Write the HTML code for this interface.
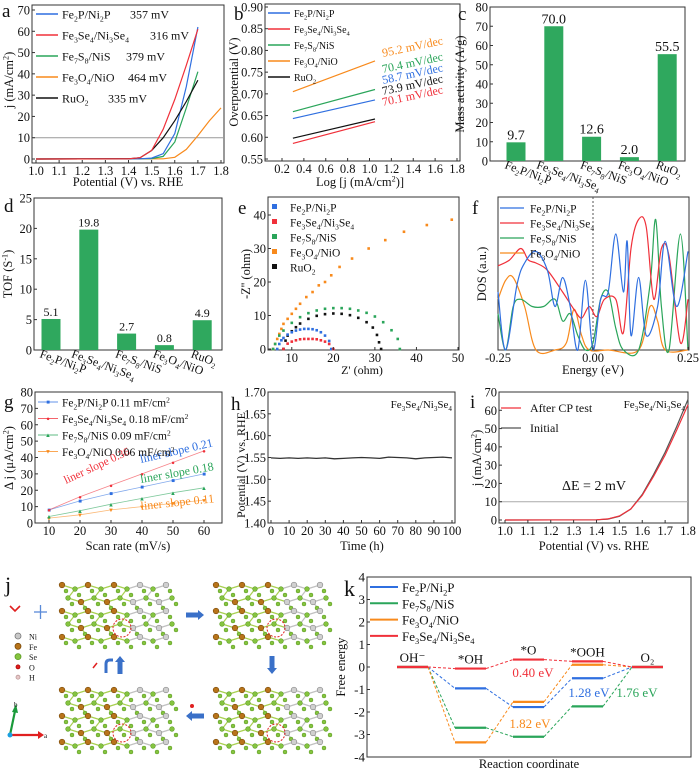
<!DOCTYPE html>
<html><head><meta charset="utf-8"><style>
html,body{margin:0;padding:0;background:#fff;}
svg{display:block;font-family:"Liberation Serif",serif;}
</style></head><body>
<svg id="fig" width="700" height="771" viewBox="0 0 700 771" xmlns="http://www.w3.org/2000/svg"></svg>
<script>
// ===== DATA =====
const aX_fe2p=[1.0,1.45,1.5,1.55,1.6,1.65,1.7];
const aY_fe2p=[0,0.1,0.4,2.5,12,34,62];
const aX_fese=[1.0,1.4,1.45,1.5,1.55,1.6,1.65,1.7];
const aY_fese=[0,0.1,0.6,4,14,28,44,61];
const aX_fes=[1.0,1.5,1.55,1.6,1.65,1.7];
const aY_fes=[0,0.2,1.2,8,24,41];
const aX_feo=[1.0,1.55,1.6,1.65,1.7,1.75,1.8];
const aY_feo=[0,0.1,0.8,4.5,11,18,24];
const aX_ru=[1.0,1.4,1.45,1.5,1.55,1.6,1.65,1.7];
const aY_ru=[0,0.1,0.6,4,10,18,27,37];
const bStart=[0.643,0.586,0.659,0.705,0.598];
const bEnd=[0.686,0.636,0.710,0.776,0.642];
const bSlopes=["58.7","70.1","70.4","95.2","73.9"];
const cVals=[9.7,70.0,12.6,2.0,55.5];
const cLabels=["9.7","70.0","12.6","2.0","55.5"];
const dVals=[5.1,19.8,2.7,0.8,4.9];
const dLabels=["5.1","19.8","2.7","0.8","4.9"];
const eX_fe2p=[6.5,7,7.5,8,9,10,11,12,13,14,15,16,17,18,19,19.5];
const eY_fe2p=[0,1.5,2.6,3.3,4.3,5,5.5,5.8,6,6,5.9,5.6,5,4,2.4,0];
const eX_fese=[8,9,10,11,12,13,14,15,16,17,18,19,20];
const eY_fese=[0,1.6,2.2,2.6,2.9,3,3,3,2.9,2.6,2.2,1.5,0];
const eX_fes=[5.5,6,7,8,10,12,14,16,18,20,22,24,26,28,30,32,34,35.5,36];
const eY_fes=[0,1.5,4,5.5,7.8,9.5,10.7,11.5,12,12.2,12.2,12,11.5,10.8,9.7,8,5.6,3,0];
const eX_feo=[5.5,6,6.5,7,7.5,8,9,10,11,12,13.5,15,16.5,18,19.5,21.5,24.5,28.5,32.5,37,42.5,48.5];
const eY_feo=[0,1.5,3,4.5,6,7.5,9,10.5,12,13.5,15.5,17,19,20,22,24.5,27,30,32.5,35,37,38.6];
const eX_ru=[8,8.5,9,10,11,12,14,16,18,20,22,24,26,28,29.5,30.5,31,31.5];
const eY_ru=[0,2.5,4,5.3,6.5,7.6,9,9.9,10.4,10.6,10.5,10.1,9.3,8,6.4,4.2,2,0];
const fX_fe2p=[-0.25,-0.23,-0.2,-0.18,-0.15,-0.12,-0.1,-0.08,-0.06,-0.04,-0.02,0,0.02,0.04,0.06,0.08,0.09,0.1,0.12,0.14,0.17,0.19,0.22,0.25];
const fY_fe2p=[0.4,0.0,0.45,0.6,0.68,0.55,0.3,0.5,0.3,0.0,0.48,0.0,0.35,0.4,0.8,0.4,0.75,0.1,0.5,0.1,0.3,0.75,0.3,0.68];
const fX_fese=[-0.25,-0.22,-0.19,-0.17,-0.15,-0.12,-0.08,-0.05,-0.03,-0.01,0.01,0.03,0.06,0.08,0.1,0.12,0.14,0.16,0.18,0.2,0.23,0.25];
const fY_fese=[0.58,0.62,0.7,0.62,0.6,0.55,0.4,0.28,0.22,0.3,0.23,0.35,0.35,0.12,0.7,0.9,0.85,0.35,0.7,0.65,0.05,0.35];
const fX_fes=[-0.25,-0.23,-0.21,-0.19,-0.16,-0.13,-0.1,-0.08,-0.06,-0.04,-0.02,0,0.02,0.04,0.06,0.08,0.12,0.15,0.165,0.18,0.2,0.23,0.25];
const fY_fes=[0.25,0.0,0.3,0.35,0.3,0.3,0.35,0.2,0.25,0.1,0.0,0.05,0.35,0.4,0.15,0.0,0.0,0.45,0.9,0.3,0.0,0.8,0.0];
const fX_feo=[-0.25,-0.23,-0.21,-0.18,-0.15,-0.1,-0.07,-0.05,-0.03,-0.01,0.04,0.12,0.15,0.17,0.19,0.25];
const fY_feo=[0.35,0.48,0.5,0.3,0.0,0.0,0.05,0.28,0.1,0.0,0.0,0.0,0.3,0.2,0.0,0.0];
const gRates=[10,20,30,40,50,60];
const gFe2p=[8,13.5,18,22,26,30];
const gFese=[8,16,23,30,37,44];
const gFes=[4,7.5,11.5,15,18.5,21.5];
const gFeo=[3,5,8,10,12,14];
const hT=[0,5,10,15,20,25,30,35,40,45,50,55,60,65,70,75,80,85,90,95,100];
const hV=[1.549,1.548,1.549,1.548,1.549,1.548,1.549,1.547,1.548,1.549,1.550,1.549,1.548,1.551,1.550,1.549,1.547,1.549,1.550,1.551,1.549];
const iX=[1.0,1.4,1.45,1.5,1.55,1.6,1.65,1.7,1.75,1.8];
const iInit=[0,0.1,0.5,2,6,14,25,37,51,66];
const iAfter=[0,0.1,0.6,2.2,6,13.5,24,35.5,49,63];
const kSteps=["OH\u207B","*OH","*O","*OOH","O\u2082"];
const kFe2p=[0,-0.95,-1.78,-0.5,0];
const kFes=[0,-2.7,-3.1,-1.75,0];
const kFeo=[0,-3.35,-1.55,0.1,0];
const kFese=[0,-0.07,0.33,0.25,0];

// ===== HELPERS =====
const NS="http://www.w3.org/2000/svg";
const svg=document.getElementById('fig');
function el(tag,attrs,name,parent){
  const e=document.createElementNS(NS,tag);
  for(const k in attrs)e.setAttribute(k,attrs[k]);
  
  
  (parent||svg).appendChild(e);return e;
}
function txt(x,y,s,size,name,opts){
  opts=opts||{};
  const t=el('text',{x:x,y:y,'font-size':size,fill:opts.fill||'#111','text-anchor':opts.anchor||'start'},name,opts.parent);
  if(opts.rot!==undefined)t.setAttribute('transform','rotate('+opts.rot+' '+x+' '+y+')');
  let i=0,buf='';
  const flush=()=>{if(buf){const sp=document.createElementNS(NS,'tspan');sp.textContent=buf;t.appendChild(sp);buf='';}};
  while(i<s.length){
    const c=s[i];
    if(c==='_'||c==='^'){
      flush();
      let sub;
      if(s[i+1]==='{'){const j=s.indexOf('}',i);sub=s.slice(i+2,j);i=j+1;}else{sub=s[i+1];i+=2;}
      const sp=document.createElementNS(NS,'tspan');
      sp.setAttribute('font-size',size*0.65);
      sp.setAttribute('dy',c==='_'?size*0.25:-size*0.35);
      sp.textContent=sub;t.appendChild(sp);
      const back=document.createElementNS(NS,'tspan');
      back.setAttribute('dy',c==='_'?-size*0.25:size*0.35);
      back.textContent='\u200B';t.appendChild(back);
    }else{buf+=c;i++;}
  }
  flush();return t;
}
function lin(d0,d1,p0,p1){return v=>p0+(v-d0)*(p1-p0)/(d1-d0);}
function box(x0,y0,x1,y1,name){el('rect',{x:x0,y:y0,width:x1-x0,height:y1-y0,fill:'none',stroke:'#333','stroke-width':1},name);}
const TF=12.5;
function xticks(vals,sx,yb,size,name,fmt){
  vals.forEach(v=>{const x=sx(v);
    el('line',{x1:x,y1:yb,x2:x,y2:yb-3,stroke:'#333'},name+'-tick');
    if(fmt)txt(x,yb+12,fmt(v),size,name+'-label',{anchor:'middle'});});
}
function yticks(vals,sy,xl,size,name,fmt){
  vals.forEach(v=>{const y=sy(v);
    el('line',{x1:xl,y1:y,x2:xl+3,y2:y,stroke:'#333'},name+'-tick');
    if(fmt)txt(xl-2,y+4.5,fmt(v),size,name+'-label',{anchor:'end'});});
}
function path(xs,ys,sx,sy,color,name,w,dash){
  let d='';xs.forEach((x,i)=>{d+=(i?'L':'M')+sx(x).toFixed(1)+','+sy(ys[i]).toFixed(1);});
  const p=el('path',{d:d,fill:'none',stroke:color,'stroke-width':w||1.2},name);
  if(dash)p.setAttribute('stroke-dasharray',dash);return p;
}
function smooth(xs,ys,sx,sy,color,name){
  const P=xs.map((x,i)=>[sx(x),sy(ys[i])]);
  let d='M'+P[0][0]+','+P[0][1];
  for(let i=0;i<P.length-1;i++){
    const p0=P[Math.max(0,i-1)],p1=P[i],p2=P[i+1],p3=P[Math.min(P.length-1,i+2)];
    const c1=[p1[0]+(p2[0]-p0[0])/6,p1[1]+(p2[1]-p0[1])/6];
    const c2=[p2[0]-(p3[0]-p1[0])/6,p2[1]-(p3[1]-p1[1])/6];
    d+='C'+c1[0].toFixed(1)+','+c1[1].toFixed(1)+' '+c2[0].toFixed(1)+','+c2[1].toFixed(1)+' '+p2[0].toFixed(1)+','+p2[1].toFixed(1);
  }
  return el('path',{d:d,fill:'none',stroke:color,'stroke-width':1.2},name);
}
const BLUE='#2f6fe0',RED='#f0303a',GREEN='#2aa55a',ORANGE='#f88a1c',BLACK='#111',BAR='#2fa85e';
const range=(a,b,s)=>{const r=[];for(let v=a;v<=b+1e-9;v+=s)r.push(+v.toFixed(4));return r;};

// ===== PANEL a =====
(function(){
  const sx=lin(1.0,1.8,36,221),sy=lin(0,70,159,10);
  box(32,5,224,163,'panel-a-frame');
  el('line',{x1:32,y1:sy(10),x2:224,y2:sy(10),stroke:'#999'},'ref-line-10');
  path(aX_feo,aY_feo,sx,sy,ORANGE,'curve-fe3o4');
  path(aX_fes,aY_fes,sx,sy,GREEN,'curve-fe7s8');
  path(aX_fe2p,aY_fe2p,sx,sy,BLUE,'curve-fe2p');
  path(aX_ru,aY_ru,sx,sy,BLACK,'curve-ruo2');
  path(aX_fese,aY_fese,sx,sy,RED,'curve-fe3se4');
  xticks(range(1.0,1.8,0.1),sx,163,TF,'a-x',v=>v.toFixed(1));
  yticks(range(0,70,10),sy,32,TF,'a-y',v=>String(v));
  txt(128,186,'Potential (V) vs. RHE',12.5,'a-x-title',{anchor:'middle'});
  txt(13,80,'j (mA/cm^2)',12.5,'a-y-title',{anchor:'middle',rot:-90});
  txt(2,17,'a',19,'panel-a-label');
  const L=[['Fe_2P/Ni_2P','357 mV',BLUE,130],['Fe_3Se_4/Ni_3Se_4','316 mV',RED,150],['Fe_7S_8/NiS','379 mV',GREEN,126],['Fe_3O_4/NiO','464 mV',ORANGE,128],['RuO_2','335 mV',BLACK,108]];
  L.forEach((l,i)=>{const y=14+i*21;
    el('line',{x1:36,y1:y,x2:58,y2:y,stroke:l[2],'stroke-width':1.4},'legend-a-swatch');
    txt(62,y+4.5,l[0],12,'legend-a-entry');
    txt(l[3],y+4.5,l[1],12,'legend-a-value');});
})();

// ===== PANEL b =====
(function(){
  const sx=lin(0.2,1.8,282,457),sy=lin(0.55,0.90,159,7);
  box(265,4,460,161,'panel-b-frame');
  const cols=[BLUE,RED,GREEN,ORANGE,BLACK];
  bStart.forEach((v,i)=>{path([0.3,1.05],[v,bEnd[i]],sx,sy,cols[i],'tafel-line',1.2);});
  const labY={3:57,2:73,0:84,4:95,1:106};
  [3,2,0,4,1].forEach(i=>{txt(383,labY[i],bSlopes[i]+' mV/dec',12,'tafel-slope-label',{fill:cols[i],rot:-12});});
  xticks(range(0.2,1.8,0.2),sx,161,TF,'b-x',v=>v.toFixed(1));
  yticks(range(0.55,0.90,0.05),sy,265,TF,'b-y',v=>v.toFixed(2));
  txt(360,186,'Log [j (mA/cm^2)]',12.5,'b-x-title',{anchor:'middle'});
  txt(238,82,'Overpotential (V)',12.5,'b-y-title',{anchor:'middle',rot:-90});
  txt(234,20,'b',19,'panel-b-label');
  const L=[['Fe_2P/Ni_2P',BLUE],['Fe_3Se_4/Ni_3Se_4',RED],['Fe_7S_8/NiS',GREEN],['Fe_3O_4/NiO',ORANGE],['RuO_2',BLACK]];
  L.forEach((l,i)=>{const y=13+i*16;
    el('line',{x1:268,y1:y,x2:290,y2:y,stroke:l[1],'stroke-width':1.4},'legend-b-swatch');
    txt(294,y+4,l[0],10,'legend-b-entry');});
})();

// ===== bar panels =====
function bars(vals,labs,x0,x1,y0,y1,dmax,step,name,cx0,cstep,w,fs){
  const sy=lin(0,dmax,y1,y0);
  box(x0,y0,x1,y1,name+'-frame');
  vals.forEach((v,i)=>{const cx=cx0+i*cstep;
    el('rect',{x:cx-w/2,y:sy(v),width:w,height:y1-sy(v),fill:BAR},name+'-bar');
    txt(cx,sy(v)-3,labs[i],fs,name+'-value-label',{anchor:'middle'});});
  yticks(range(0,dmax,step),sy,x0,TF,name+'-y',v=>String(v));
  const cats=['Fe_2P/Ni_2P','Fe_3Se_4/Ni_3Se_4','Fe_7S_8/NiS','Fe_3O_4/NiO','RuO_2'];
  cats.forEach((c,i)=>{const cx=cx0+i*cstep;
    const tx=cx-12-(i===1?6:0),ty=y1+7;
    txt(tx,ty,c,12,name+'-category-label',{anchor:'start',rot:20});});
}
bars(cVals,cLabels,490,685,7,161,80,10,'mass-activity',516,37.8,19,14);
txt(464,84,'Mass activity (A/g)',12.5,'c-y-title',{anchor:'middle',rot:-90});
txt(458,20,'c',19,'panel-c-label');
bars(dVals,dLabels,34,222,198,350,25,5,'tof',51,37.8,19,12);
txt(12,274,'TOF (S^{-1})',12.5,'d-y-title',{anchor:'middle',rot:-90});
txt(4,212,'d',19,'panel-d-label');

// ===== PANEL e =====
(function(){
  const sx=lin(5,50,271,458),sy=lin(0,40,349,215);
  box(268,197,459,350,'panel-e-frame');
  const S=[[eX_feo,eY_feo,ORANGE,'fe3o4'],[eX_fes,eY_fes,GREEN,'fe7s8'],[eX_ru,eY_ru,BLACK,'ruo2'],[eX_fe2p,eY_fe2p,BLUE,'fe2p'],[eX_fese,eY_fese,RED,'fe3se4']];
  S.forEach(s=>{s[0].forEach((x,i)=>{el('rect',{x:sx(x)-1.3,y:sy(s[1][i])-1.3,width:2.6,height:2.6,fill:s[2]},'nyquist-point-'+s[3]);});});
  xticks(range(10,50,10),sx,350,TF,'e-x',v=>String(v));
  yticks(range(0,40,10),sy,268,TF,'e-y',v=>String(v));
  txt(362,374,"Z' (ohm)",12,'e-x-title',{anchor:'middle'});
  txt(250,274,"-Z'' (ohm)",12.5,'e-y-title',{anchor:'middle',rot:-90});
  txt(238,214,'e',19,'panel-e-label');
  const L=[['Fe_2P/Ni_2P',BLUE],['Fe_3Se_4/Ni_3Se_4',RED],['Fe_7S_8/NiS',GREEN],['Fe_3O_4/NiO',ORANGE],['RuO_2',BLACK]];
  L.forEach((l,i)=>{const y=207+i*15;
    el('rect',{x:272,y:y-3,width:5,height:5,fill:l[1]},'legend-e-swatch');
    txt(290,y+4.5,l[0],11.5,'legend-e-entry');});
})();

// ===== PANEL f =====
(function(){
  const sx=lin(-0.25,0.25,498,688),sy=lin(0,1,350,205);
  box(498,197,689,350,'panel-f-frame');
  el('line',{x1:sx(0),y1:197,x2:sx(0),y2:350,stroke:'#555','stroke-dasharray':'2,2'},'fermi-level-line');
  smooth(fX_feo,fY_feo,sx,sy,ORANGE,'dos-fe3o4');
  smooth(fX_fes,fY_fes,sx,sy,GREEN,'dos-fe7s8');
  smooth(fX_fese,fY_fese,sx,sy,RED,'dos-fe3se4');
  smooth(fX_fe2p,fY_fe2p,sx,sy,BLUE,'dos-fe2p');
  xticks([-0.25,0,0.25],sx,350,TF,'f-x',v=>v.toFixed(2));
  txt(593,374,'Energy (eV)',12.5,'f-x-title',{anchor:'middle'});
  txt(486,274,'DOS (a.u.)',12.5,'f-y-title',{anchor:'middle',rot:-90});
  txt(472,214,'f',19,'panel-f-label');
  const L=[['Fe_2P/Ni_2P',BLUE],['Fe_3Se_4/Ni_3Se_4',RED],['Fe_7S_8/NiS',GREEN],['Fe_3O_4/NiO',ORANGE]];
  L.forEach((l,i)=>{const y=208+i*15;
    el('line',{x1:500,y1:y,x2:524,y2:y,stroke:l[1],'stroke-width':1.3},'legend-f-swatch');
    txt(530,y+4.5,l[0],11.5,'legend-f-entry');});
})();

// ===== PANEL g =====
(function(){
  const sx=lin(10,60,49,204),sy=lin(0,80,523,392);
  box(35,392,222,523,'panel-g-frame');
  const S=[[gFeo,ORANGE,'fe3o4','\u25BC'],[gFes,GREEN,'fe7s8','\u25B2'],[gFe2p,BLUE,'fe2p','\u25A0'],[gFese,RED,'fe3se4','\u25CF']];
  S.forEach(s=>{path(gRates,s[0],sx,sy,s[1],'fit-line-'+s[2],0.8).setAttribute('opacity','0.6');
    gRates.forEach((r,i)=>{txt(sx(r),sy(s[0][i])+2.2,s[3],6,'cdl-point-'+s[2],{anchor:'middle',fill:s[1]});});});
  xticks(range(10,60,10),sx,523,TF,'g-x',v=>String(v));
  yticks(range(0,80,10),sy,35,TF,'g-y',v=>String(v));
  txt(128,550,'Scan rate (mV/s)',12.5,'g-x-title',{anchor:'middle'});
  txt(13,458,'\u0394 j (\u03BCA/cm^2)',12.5,'g-y-title',{anchor:'middle',rot:-90});
  txt(4,408,'g',19,'panel-g-label');
  txt(66,484,'liner slope 0.36',11.5,'slope-label-red',{fill:RED,rot:-25});
  txt(141,463,'liner slope 0.21',12,'slope-label-blue',{fill:BLUE,rot:-13});
  txt(141,483,'liner slope 0.18',12,'slope-label-green',{fill:GREEN,rot:-10});
  txt(141,510,'liner slope 0.11',12,'slope-label-orange',{fill:ORANGE,rot:-6});
  const L=[['Fe_2P/Ni_2P 0.11 mF/cm^2',BLUE,'\u25A0'],['Fe_3Se_4/Ni_3Se_4 0.18 mF/cm^2',RED,'\u25CF'],['Fe_7S_8/NiS 0.09 mF/cm^2',GREEN,'\u25B2'],['Fe_3O_4/NiO 0.06 mF/cm^2',ORANGE,'\u25BC']];
  L.forEach((l,i)=>{const y=402+i*16.5;
    el('line',{x1:38,y1:y,x2:58,y2:y,stroke:l[1],'stroke-width':0.8},'legend-g-swatch');
    txt(48,y+2.2,l[2],6,'legend-g-marker',{anchor:'middle',fill:l[1]});
    txt(62,y+4.5,l[0],11.5,'legend-g-entry');});
})();

// ===== PANEL h =====
(function(){
  const sx=lin(0,100,271,452),sy=lin(1.40,1.70,523,392);
  box(268,392,455,523,'panel-h-frame');
  path(hT,hV,sx,sy,'#333','stability-curve',1.3);
  xticks(range(0,100,10),sx,523,TF,'h-x',v=>String(v));
  yticks(range(1.40,1.70,0.05),sy,268,TF,'h-y',v=>v.toFixed(2));
  txt(362,550,'Time (h)',12.5,'h-x-title',{anchor:'middle'});
  txt(245,465,'Potential (V) vs. RHE',12,'h-y-title',{anchor:'middle',rot:-90});
  txt(231,410,'h',19,'panel-h-label');
  txt(452,408,'Fe_3Se_4/Ni_3Se_4',11,'h-sample-label',{anchor:'end'});
})();

// ===== PANEL i =====
(function(){
  const sx=lin(1.0,1.8,505,688),sy=lin(0,70,520,392);
  box(499,392,688,523,'panel-i-frame');
  el('line',{x1:499,y1:sy(10),x2:688,y2:sy(10),stroke:'#aaa'},'ref-line-10');
  path(iX,iInit,sx,sy,'#555','curve-initial',1.2);
  path(iX,iAfter,sx,sy,RED,'curve-after-cp',1.2);
  xticks(range(1.0,1.8,0.1),sx,523,TF,'i-x',v=>v.toFixed(1));
  yticks(range(0,70,10),sy,499,TF,'i-y',v=>String(v));
  txt(594,550,'Potential (V) vs. RHE',12.5,'i-x-title',{anchor:'middle'});
  txt(481,458,'j (mA/cm^2)',12.5,'i-y-title',{anchor:'middle',rot:-90});
  txt(470,408,'i',19,'panel-i-label');
  txt(685,408,'Fe_3Se_4/Ni_3Se_4',11,'i-sample-label',{anchor:'end'});
  el('line',{x1:501,y1:408,x2:521,y2:408,stroke:RED,'stroke-width':1.3},'legend-i-swatch');
  txt(530,412,'After CP test',12,'legend-i-entry');
  el('line',{x1:501,y1:428,x2:521,y2:428,stroke:'#555','stroke-width':1.3},'legend-i-swatch');
  txt(530,432,'Initial',12,'legend-i-entry');
  txt(562,490,'\u0394E = 2 mV',14,'delta-e-label');
})();

// ===== PANEL j (illustration) =====
(function(){
  txt(5,592,'j',22,'panel-j-label');
  function block(ox,oy,name){
    const g=el('g',{},name);
    const pts=[];
    for(let r=0;r<5;r++)for(let c=0;c<9;c++){
      const x=ox+c*13+(r%2)*6,y=oy+r*13+(c%2)*4;
      pts.push([x,y,c]);
    }
    pts.forEach(p=>{pts.forEach(q=>{const d=Math.hypot(p[0]-q[0],p[1]-q[1]);
      if(d>0&&d<14&&p[0]<q[0]+0.1)el('line',{x1:p[0],y1:p[1],x2:q[0],y2:q[1],stroke:p[2]<5?'#a8d050':'#c0c0c0','stroke-width':1.2},'bond',g);});});
    pts.forEach((p,i)=>{
      const metal=(i%2===0);
      const col=metal?(p[2]<5?'#b8741a':'#d0d0d0'):'#86c440';
      const st=metal?(p[2]<5?'#7a4a0a':'#888'):'#5a9a22';
      el('circle',{cx:p[0],cy:p[1],r:metal?2.8:2.3,fill:col,stroke:st,'stroke-width':0.6},'atom',g);
      el('circle',{cx:p[0]+4,cy:p[1]+6,r:2,fill:'#86c440',stroke:'#5a9a22','stroke-width':0.5},'atom',g);
    });
    el('circle',{cx:ox+60,cy:oy+43,r:9,fill:'none',stroke:'#e02020','stroke-width':1,'stroke-dasharray':'2,1.5'},'active-site-circle',g);
  }
  block(62,585,'structure-initial');
  block(216,585,'structure-oh-adsorbed');
  block(62,690,'structure-ooh-adsorbed');
  block(216,690,'structure-o-adsorbed');
  const arr=(x,y,rot,name)=>{el('path',{d:'M-9,-2.5 L3,-2.5 L3,-5 L9,0 L3,5 L3,2.5 L-9,2.5 Z',fill:'#3a70c8',transform:'translate('+x+','+y+') rotate('+rot+')'},name);};
  arr(195,615,0,'arrow-right');
  arr(272,665,90,'arrow-down');
  arr(195,716,180,'arrow-left');
  arr(120,665,-90,'arrow-up');
  el('path',{d:'M106,673 L106,664 Q106,660 110,660 L113,660',fill:'none',stroke:'#3a70c8','stroke-width':3},'arrow-hook');
  el('line',{x1:93,y1:668,x2:97,y2:663,stroke:'#e02020','stroke-width':1.5},'o2-molecule');
  el('circle',{cx:192,cy:706,r:2,fill:'#e02020'},'h-molecule');
  el('path',{d:'M10,606 L15,611 L20,606',fill:'none',stroke:'#e02020','stroke-width':1.6},'water-molecule');
  el('line',{x1:34,y1:612,x2:47,y2:612,stroke:'#5a8ad8','stroke-width':1.3},'plus-sign');
  el('line',{x1:40.5,y1:605,x2:40.5,y2:619,stroke:'#5a8ad8','stroke-width':1.3},'plus-sign');
  const leg=[['Ni','#c8c8c8','#777'],['Fe','#b8741a','#7a4a0a'],['Se','#86c440','#5a9a22'],['O','#e02020','#a00'],['H','#e8c8c8','#b99']];
  leg.forEach((l,i)=>{const y=636+i*10.3;
    el('circle',{cx:18,cy:y,r:i<3?3:2,fill:l[1],stroke:l[2],'stroke-width':0.8},'atom-legend-marker');
    txt(29,y+3.5,l[0],8,'atom-legend-label');});
  el('line',{x1:10,y1:735,x2:38,y2:735,stroke:'#e02020','stroke-width':2.2},'axis-a-arrow');
  el('path',{d:'M38,731 L44,735 L38,739 Z',fill:'#e02020'},'axis-a-head');
  el('line',{x1:10,y1:735,x2:15,y2:711,stroke:'#1a9a3a','stroke-width':2.2},'axis-b-arrow');
  el('path',{d:'M12,712 L16,704 L18,713 Z',fill:'#1a9a3a'},'axis-b-head');
  el('circle',{cx:10,cy:735,r:2.5,fill:'#1aa0e0'},'axis-c-origin');
  txt(44,738,'a',7,'axis-a-label');
  txt(14,707,'b',7,'axis-b-label');
})();

// ===== PANEL k =====
(function(){
  const sy=lin(-4,4,757,577);
  box(367,577,691,757,'panel-k-frame');
  const lx=[397,455,513,572,632],lw=31;
  yticks(range(-4,4,1),sy,367,13,'k-y',v=>String(v));
  txt(344,596,'k',22,'panel-k-label');
  txt(345,667,'Free energy',12.5,'k-y-title',{anchor:'middle',rot:-90});
  txt(529,768,'Reaction coordinate',12.5,'k-x-title',{anchor:'middle'});
  const S=[[kFe2p,BLUE,'fe2p'],[kFes,GREEN,'fe7s8'],[kFeo,ORANGE,'fe3o4'],[kFese,RED,'fe3se4']];
  S.forEach(s=>{
    for(let i=0;i<4;i++)el('line',{x1:lx[i]+lw,y1:sy(s[0][i]),x2:lx[i+1],y2:sy(s[0][i+1]),stroke:s[1],'stroke-width':1,'stroke-dasharray':'3,2'},'energy-connector-'+s[2]);
    s[0].forEach((v,i)=>el('line',{x1:lx[i],y1:sy(v),x2:lx[i]+lw,y2:sy(v),stroke:s[1],'stroke-width':2.2},'energy-level-'+s[2]));
  });
  kSteps.forEach((s,i)=>{const top=Math.max(kFe2p[i],kFes[i],kFeo[i],kFese[i]);
    txt(lx[i]+lw/2,sy(top)-5,s,13,'step-label',{anchor:'middle'});});
  txt(533,677,'0.40 eV',13,'overpotential-label-fe3se4',{fill:RED,anchor:'middle'});
  txt(589,697,'1.28 eV',13,'overpotential-label-fe2p',{fill:BLUE,anchor:'middle'});
  txt(637,697,'1.76 eV',13,'overpotential-label-fe7s8',{fill:GREEN,anchor:'middle'});
  txt(530,728,'1.82 eV',13,'overpotential-label-fe3o4',{fill:ORANGE,anchor:'middle'});
  const L=[['Fe_2P/Ni_2P',BLUE],['Fe_7S_8/NiS',GREEN],['Fe_3O_4/NiO',ORANGE],['Fe_3Se_4/Ni_3Se_4',RED]];
  L.forEach((l,i)=>{const y=587+i*16.3;
    el('line',{x1:370,y1:y,x2:398,y2:y,stroke:l[1],'stroke-width':2},'legend-k-swatch');
    txt(402,y+5,l[0],13,'legend-k-entry');});
})();
</script>
</body></html>
